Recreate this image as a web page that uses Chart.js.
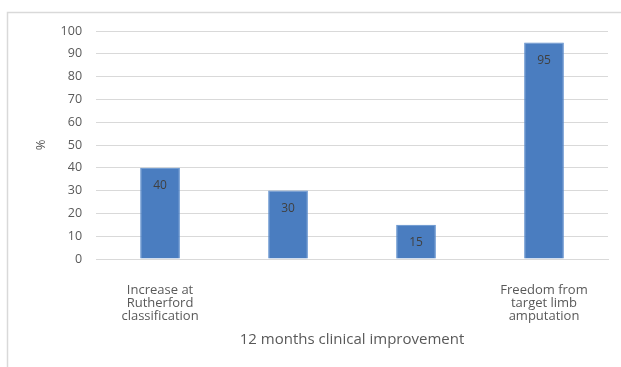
<!DOCTYPE html>
<html>
<head>
<meta charset="utf-8">
<script src="https://cdn.jsdelivr.net/npm/chart.js@4"></script>
<style>
html,body{margin:0;padding:0;background:#fff;}
#wrap{position:relative;width:621px;height:367px;}
</style>
</head>
<body>
<div id="wrap"><canvas id="c" width="621" height="367"></canvas></div>
<script>
const categories = [
  ['Increase at', 'Rutherford', 'classification'],
  '',
  '',
  ['Freedom from', 'target limb', 'amputation']
];
const values = [40, 30, 15, 95];
const yTicks = [0, 10, 20, 30, 40, 50, 60, 70, 80, 90, 100];
const xTitle = '12 months clinical improvement';
const yTitle = '%';

const textColor = '#595959';
const fontFam = "'Open Sans', 'DejaVu Sans', sans-serif";

const frame = {
  id: 'frame',
  beforeDraw(chart) {
    const ctx = chart.ctx;
    ctx.save();
    ctx.fillStyle = '#fff';
    ctx.fillRect(0, 0, chart.width, chart.height);
    ctx.strokeStyle = '#d9d9d9';
    ctx.lineWidth = 1.5;
    ctx.beginPath();
    ctx.moveTo(7.5, chart.height);
    ctx.lineTo(7.5, 12.5);
    ctx.lineTo(chart.width, 12.5);
    ctx.stroke();
    ctx.restore();
  }
};

const dataLabels = {
  id: 'dataLabels',
  afterDatasetsDraw(chart) {
    const ctx = chart.ctx;
    const meta = chart.getDatasetMeta(0);
    ctx.save();
    ctx.fillStyle = '#404040';
    ctx.font = '12px ' + fontFam;
    ctx.textAlign = 'center';
    ctx.textBaseline = 'middle';
    meta.data.forEach((bar, i) => {
      ctx.fillText(String(values[i]), bar.x, bar.y + 18);
    });
    ctx.restore();
  }
};

new Chart(document.getElementById('c'), {
  type: 'bar',
  data: {
    labels: categories,
    datasets: [{
      data: values,
      backgroundColor: '#4a7dc0',
      borderColor: '#5a8ccc',
      borderWidth: 1,
      categoryPercentage: 1,
      barPercentage: 0.31
    }]
  },
  options: {
    responsive: false,
    animation: false,
    devicePixelRatio: 1,
    layout: { padding: { left: 33, right: 13, top: 31, bottom: 18 } },
    plugins: { legend: { display: false }, tooltip: { enabled: false } },
    scales: {
      x: {
        grid: { display: false },
        border: { display: true, color: '#d9d9d9', width: 1 },
        ticks: {
          color: textColor,
          font: { size: 13, family: fontFam, lineHeight: 1.0 },
          maxRotation: 0,
          autoSkip: false,
          padding: 17
        },
        title: {
          display: true,
          text: xTitle,
          color: textColor,
          font: { size: 15, family: fontFam },
          padding: { top: -9, bottom: 0 }
        }
      },
      y: {
        min: 0,
        max: 100,
        afterBuildTicks(axis) { axis.ticks = yTicks.map(v => ({ value: v })); },
        grid: { color: '#d9d9d9', lineWidth: 1, drawTicks: false },
        border: { display: false },
        ticks: {
          color: textColor,
          font: { size: 12.5, family: fontFam },
          padding: 14
        },
        title: {
          display: true,
          text: yTitle,
          color: textColor,
          font: { size: 13, family: fontFam },
          padding: { top: 0, bottom: -2 }
        }
      }
    }
  },
  plugins: [frame, dataLabels]
});
</script>
</body>
</html>
